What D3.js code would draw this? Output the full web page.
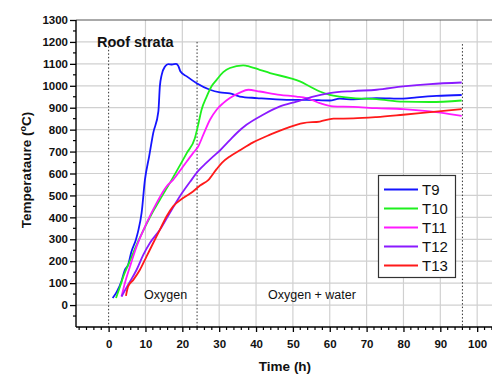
<!DOCTYPE html>
<html><head><meta charset="utf-8">
<script src="https://cdn.jsdelivr.net/npm/d3@7"></script>
<style>body{margin:0;background:#fff}svg{display:block}</style>
</head><body>
<script>
const xTicks = [0,10,20,30,40,50,60,70,80,90,100];
const yTicks = [0,100,200,300,400,500,600,700,800,900,1000,1100,1200,1300];
const seriesNames = ["T9","T10","T11","T12","T13"];
const seriesColors = ["#1515ff","#1ef01e","#ff1aff","#8a1aff","#ff1a1a"];
const phaseLines = [0,24,96];
const T9 = [[1.1,32],[2.2,60],[3.5,110],[4.4,160],[5.3,184],[6.2,244],[7.4,298],[8.0,336],[8.95,420],[9.85,571],[11.0,678],[12.1,784],[13.5,883],[13.9,997],[14.4,1050],[15.3,1088],[16.2,1099],[17.2,1097],[18.3,1100],[18.9,1091],[19.5,1065],[21.2,1043],[23.9,1012],[27.5,982],[30.2,970],[32.9,965],[35.6,951],[40.2,944],[48.3,936],[53.7,936],[60.0,933],[62.7,941],[66.4,938],[72.7,944],[79.9,941],[83.6,947],[89.0,954],[95.8,958]];
const T10 = [[2.0,32],[3.1,85],[4.0,130],[6.0,210],[8.0,290],[10.0,360],[12.0,425],[13.9,480],[17.1,571],[21.2,693],[23.4,761],[24.3,822],[25.2,890],[26.6,951],[27.9,997],[29.3,1027],[31.1,1062],[32.9,1081],[36.5,1093],[37.4,1091],[41.0,1073],[43.8,1058],[49.2,1035],[51.9,1020],[54.6,997],[57.3,974],[60.0,959],[62.7,951],[66.4,944],[72.7,939],[79.9,928],[87.2,926],[95.8,933]];
const T11 = [[3.5,39],[4.4,100],[5.8,176],[7.6,267],[10.3,374],[13.0,465],[15.7,541],[17.5,571],[20.2,632],[22.9,693],[24.3,723],[25.7,777],[27.5,845],[29.3,891],[31.1,921],[32.9,944],[35.6,969],[37.9,982],[41.0,974],[46.5,959],[51.0,951],[53.7,944],[57.3,921],[60.9,906],[66.4,904],[72.7,898],[79.9,894],[87.2,883],[92.6,871],[95.8,863]];
const T12 = [[3.5,39],[5.3,93],[7.6,161],[9.4,229],[11.2,283],[13.9,343],[16.6,420],[19.3,495],[22.1,562],[24.5,615],[26.5,648],[28.4,678],[30.2,705],[32.9,752],[35.0,788],[37.4,822],[41.9,868],[46.5,906],[51.0,928],[55.5,951],[60.0,967],[66.4,976],[72.7,982],[79.9,997],[87.2,1008],[95.8,1015]];
const T13 = [[4.7,42],[5.3,85],[6.7,115],[8.5,161],[10.3,222],[12.1,283],[13.9,343],[15.7,404],[17.5,450],[20.2,488],[22.9,518],[24.8,545],[27.1,571],[29.3,620],[30.8,650],[32.9,678],[35.5,705],[39.2,742],[43.8,777],[48.3,807],[52.8,830],[57.3,837],[61.0,850],[66.4,851],[72.7,857],[79.9,868],[87.2,880],[95.8,894]];
const seriesData = [T9,T10,T11,T12,T13];

const W=492,H=379;
const svg=d3.select("body").append("svg").attr("width",W).attr("height",H);
const x=d3.scaleLinear().domain([-8.85,105]).range([76,495.6]);
const y=d3.scaleLinear().domain([-100,1300]).range([327,20]);
const font="'Liberation Sans', Arial, sans-serif";

// grid
svg.append("g").selectAll("line").data(xTicks.filter(d=>d>0)).join("line")
 .attr("x1",d=>x(d)).attr("x2",d=>x(d)).attr("y1",y(1300)).attr("y2",y(-100))
 .attr("stroke","#d0d0d0").attr("stroke-width",1.2);
svg.append("g").selectAll("line").data(yTicks.filter(d=>d<1300)).join("line")
 .attr("x1",x(-8.85)).attr("x2",W).attr("y1",d=>y(d)).attr("y2",d=>y(d))
 .attr("stroke","#d0d0d0").attr("stroke-width",1.2);
// top frame
svg.append("line").attr("x1",76).attr("x2",W).attr("y1",y(1300)).attr("y2",y(1300)).attr("stroke","#555").attr("stroke-width",1);

// phase dotted lines
svg.append("g").selectAll("line").data(phaseLines).join("line")
 .attr("x1",d=>x(d)).attr("x2",d=>x(d)).attr("y1",(d,i)=>y([1180,1200,1190][i])).attr("y2",y(-100))
 .attr("stroke","#333").attr("stroke-width",1).attr("stroke-dasharray","1.5,2");

// axes
const xMinor=d3.range(-8,106,2);
const xAxis=d3.axisBottom(x).tickValues(xTicks).tickSize(5).tickFormat(d3.format("d"));
const gx=svg.append("g").attr("transform",`translate(0,${y(-100)})`).call(xAxis);
gx.selectAll(".tick line").attr("stroke","#000").attr("stroke-width",1.3);
gx.append("g").selectAll("line").data(xMinor.filter(d=>d%10!==0)).join("line")
 .attr("x1",d=>x(d)).attr("x2",d=>x(d)).attr("y1",0).attr("y2",3).attr("stroke","#000").attr("stroke-width",1.2);
gx.select(".domain").attr("stroke","#000").attr("stroke-width",1.4).attr("d",`M76,0H${W}`);
gx.selectAll("text").attr("font-family",font).attr("font-weight","bold").attr("font-size","11.5px").attr("fill","#111").attr("dy","1.1em");

const yAxis=d3.axisLeft(y).tickValues(yTicks).tickSize(6).tickFormat(d3.format("d"));
const gy=svg.append("g").attr("transform",`translate(76,0)`).call(yAxis);
gy.selectAll(".tick line").attr("stroke","#000").attr("stroke-width",1.3);
gy.append("g").selectAll("line").data(d3.range(-50,1300,100)).join("line")
 .attr("y1",d=>y(d)).attr("y2",d=>y(d)).attr("x1",0).attr("x2",-3).attr("stroke","#000").attr("stroke-width",1.2);
gy.select(".domain").attr("stroke","#000").attr("stroke-width",1.4).attr("d",`M0,${y(-100)}V${y(1300)}`);
gy.selectAll("text").attr("font-family",font).attr("font-weight","bold").attr("font-size","11.5px").attr("fill","#111").attr("x",-8);

// series
const line=d3.line().x(d=>x(d[0])).y(d=>y(d[1])).curve(d3.curveMonotoneX);
seriesData.forEach((s,i)=>{
  svg.append("path").datum(s).attr("d",line).attr("fill","none")
   .attr("stroke",seriesColors[i]).attr("stroke-width",1.8);
});

// texts
svg.append("text").attr("x",97).attr("y",47).text("Roof strata")
 .attr("font-family",font).attr("font-weight","bold").attr("font-size","14.5px").attr("fill","#111");
svg.append("text").attr("x",144).attr("y",299).text("Oxygen")
 .attr("font-family",font).attr("font-size","12.5px").attr("fill","#111");
svg.append("text").attr("x",268).attr("y",299).text("Oxygen + water")
 .attr("font-family",font).attr("font-size","12.5px").attr("fill","#111");

// axis titles
svg.append("text").attr("x",285).attr("y",371).attr("text-anchor","middle").text("Time (h)")
 .attr("font-family",font).attr("font-weight","bold").attr("font-size","13.5px").attr("fill","#111");
const yt=svg.append("text").attr("transform","translate(31,170) rotate(-90)").attr("text-anchor","middle")
 .attr("font-family",font).attr("font-weight","bold").attr("font-size","13.5px").attr("fill","#111");
yt.append("tspan").text("Temperataure (");
yt.append("tspan").text("o").attr("font-size","9px").attr("dy","-5");
yt.append("tspan").text("C)").attr("dy","5");

// legend
const lg=svg.append("g");
lg.append("rect").attr("x",378.5).attr("y",175.5).attr("width",77).attr("height",102)
 .attr("fill","#fff").attr("stroke","#333").attr("stroke-width",1.2);
seriesNames.forEach((n,i)=>{
  const yy=189.5+i*19;
  lg.append("line").attr("x1",384).attr("x2",418).attr("y1",yy).attr("y2",yy).attr("stroke",seriesColors[i]).attr("stroke-width",1.8);
  lg.append("text").attr("x",422).attr("y",yy+5.5).text(n).attr("font-family",font).attr("font-size","15px").attr("fill","#111");
});
</script>
</body></html>
